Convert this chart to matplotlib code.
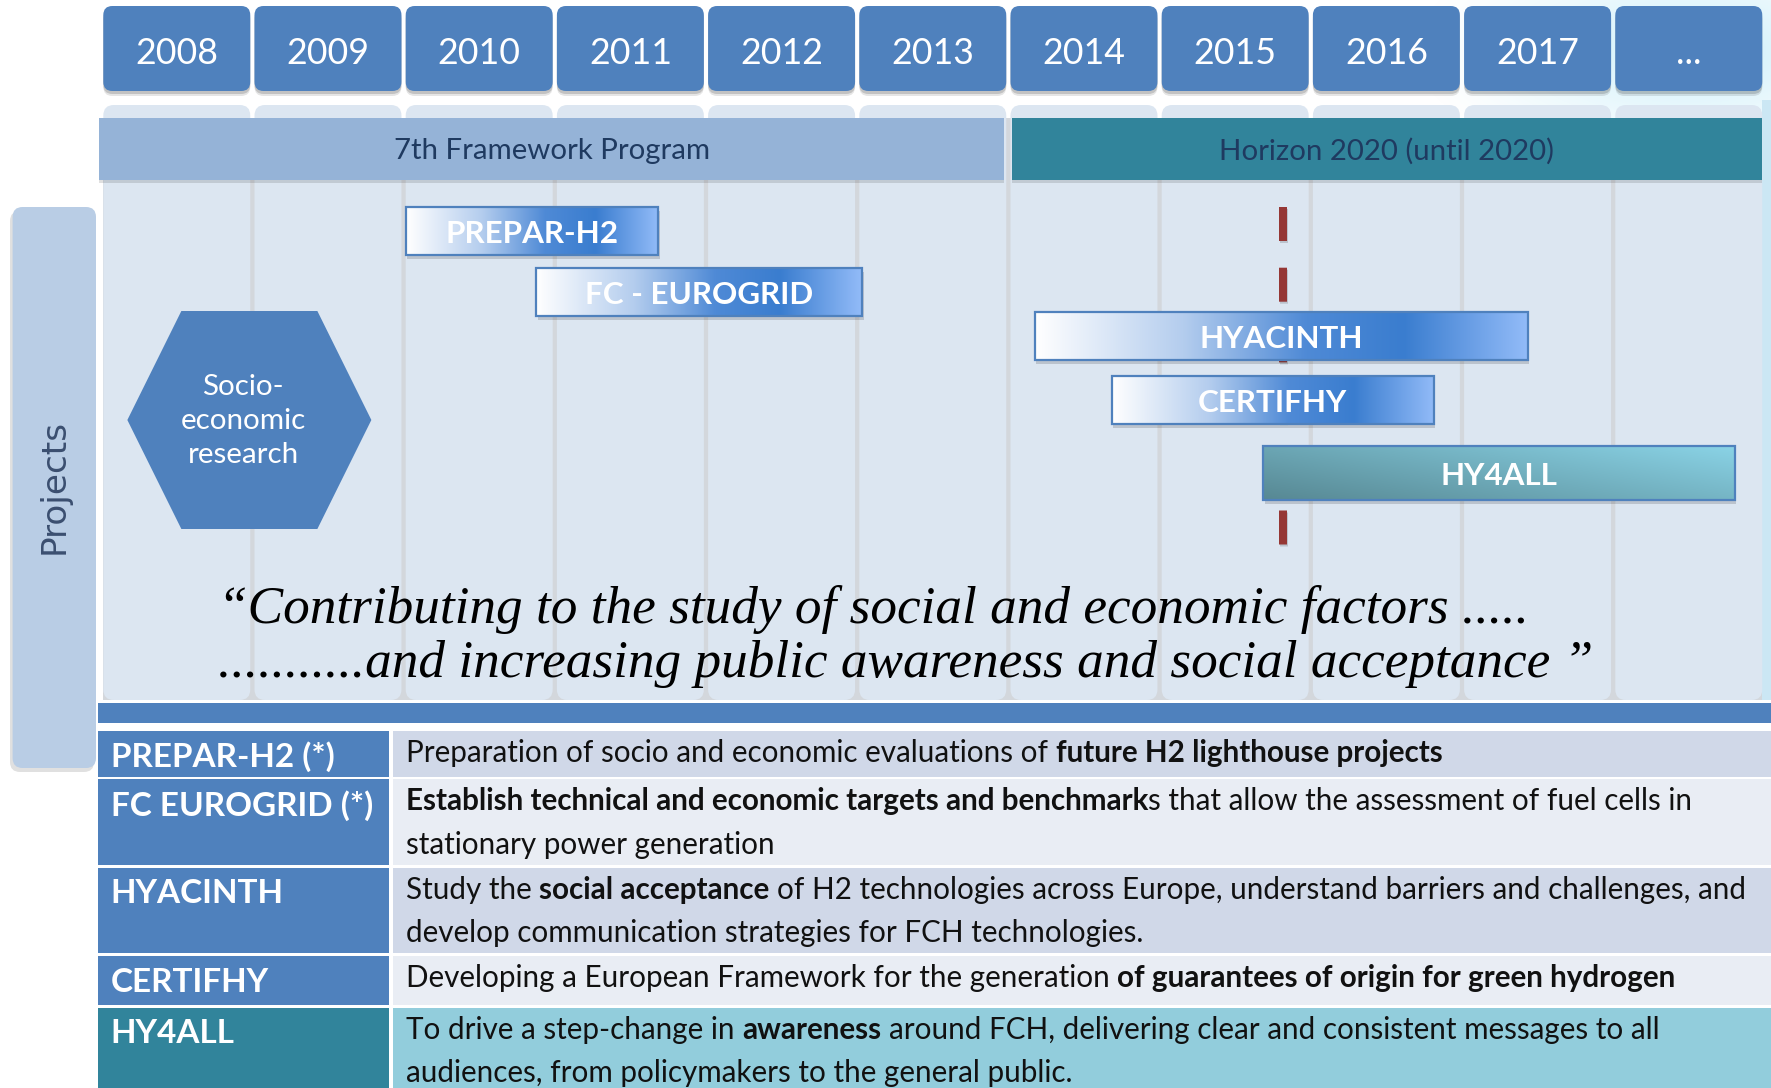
import numpy as np
import matplotlib
matplotlib.use('Agg')
import matplotlib.pyplot as plt
from matplotlib.patches import FancyBboxPatch, Rectangle, Polygon
from matplotlib.colors import LinearSegmentedColormap, to_rgb
from matplotlib.font_manager import FontProperties

# ---- data ----
years = ['2008', '2009', '2010', '2011', '2012', '2013', '2014', '2015', '2016', '2017', '...']
first_year = 2008

programs = ['7th Framework Program', 'Horizon 2020 (until 2020)']
prog_start = [2007.97, 2014.01]
prog_end = [2013.96, 2018.97]

projects = ['PREPAR-H2', 'FC - EUROGRID', 'HYACINTH', 'CERTIFHY', 'HY4ALL']
proj_start = [2010.0, 2010.865, 2014.16, 2014.67, 2015.67]
proj_end = [2011.67, 2013.02, 2017.42, 2016.80, 2018.79]
milestone = 2015.80

hex_label = ['Socio-', 'economic', 'research']
side_label = 'Projects'
quote = ['\u201cContributing to the study of social and economic factors .....',
         '...........and increasing public awareness and social acceptance \u201d']

table_names = ['PREPAR-H2 (*)', 'FC EUROGRID (*)', 'HYACINTH', 'CERTIFHY', 'HY4ALL']
# each row: list of lines, each line: list of (text, bold)
table_text = [
    [[('Preparation of socio and economic evaluations of ', False), ('future H2 lighthouse projects', True)]],
    [[('Establish technical and economic targets and benchmark', True), ('s that allow the assessment of fuel cells in', False)],
     [('stationary power generation', False)]],
    [[('Study the ', False), ('social acceptance', True), (' of H2 technologies across Europe, understand barriers and challenges, and', False)],
     [('develop communication strategies for FCH technologies.', False)]],
    [[('Developing a European Framework for the generation ', False), ('of guarantees of origin for green hydrogen', True)]],
    [[('To drive a step-change in ', False), ('awareness', True), (' around FCH, delivering clear and consistent messages to all', False)],
     [('audiences, from policymakers to the general public.', False)]],
]

# ---- layout (pixels) ----
W, H = 1771, 1088
PX0 = 103.3      # pixel of the left edge of the 2008 column
PPY = 151.2      # pixels per year
BOXW = 0.972
bar_top = [207, 268, 312, 376, 446]
bar_h = [48, 48, 48, 48, 54]
row_top = [730.7, 779.3, 867.7, 956, 1007.7]
row_bot = [776.7, 865, 953.3, 1005, 1100]

BLUE = '#4f81bd'
TEAL = '#31849b'
NAVY = '#1f3a60'
SANS = 'Lato'

fig = plt.figure(figsize=(W / 100, H / 100), dpi=100)
bg = fig.add_axes([0, 0, 1, 1], label='bg')
tl = fig.add_axes([0, 0, 1, 1], label='tl')
fg = fig.add_axes([0, 0, 1, 1], label='fg')
for a in (bg, tl, fg):
    a.axis('off')
tl.patch.set_visible(False)
fg.patch.set_visible(False)

R = fig.canvas.get_renderer()


def tw(s, fp):
    a = R.get_text_width_height_descent('|' + s + '|', fp, ismath=False)[0]
    b = R.get_text_width_height_descent('||', fp, ismath=False)[0]
    return a - b


def fp_(size, family=SANS, bold=False, style='normal'):
    return FontProperties(family=family, size=size, weight='bold' if bold else 'normal', style=style)


def fit(s, target, family=SANS, bold=False, style='normal'):
    return 20 * target / tw(s, fp_(20, family, bold, style))


# ---- background glow ----
gy, gx = np.mgrid[0:220, 1250:W]
r = np.sqrt(((gx - 1690) / 280.0) ** 2 + ((gy - 50) / 120.0) ** 2)
glow = np.zeros(gx.shape + (4,))
glow[..., :3] = to_rgb('#c9eefb')
glow[..., 3] = np.clip(1 - r, 0, 1) ** 1.2 * 0.95
bg.imshow(glow, extent=(1250, W, 220, 0), aspect='auto', interpolation='bilinear')
bg.add_patch(Rectangle((1762, 100), 9, 600, color='#cbe7f4', lw=0))
bg.set_xlim(0, W)
bg.set_ylim(H, 0)

# ---- timeline axes (x in years) ----
x_lo = first_year - PX0 / PPY
x_hi = first_year + (W - PX0) / PPY
n = len(years)

# column backgrounds
tl.add_patch(Rectangle((first_year, 118), n - (1 - BOXW), 582, color='#d3d7dc', lw=0, zorder=0))
for i in range(n):
    tl.add_patch(FancyBboxPatch((first_year + i, 105), BOXW, 595,
                                boxstyle='round,pad=0,rounding_size=0.07', mutation_aspect=PPY,
                                fc='#dce6f1', ec='none', zorder=1))

# year boxes
yfs = fit('2008', 83)
for i, lab in enumerate(years):
    for off, al in ((5, 0.10), (3, 0.15)):
        tl.add_patch(FancyBboxPatch((first_year + i, 6 + off), BOXW, 85,
                                    boxstyle='round,pad=0,rounding_size=0.06', mutation_aspect=PPY,
                                    fc='black', ec='none', alpha=al, zorder=2))
    tl.add_patch(FancyBboxPatch((first_year + i, 6), BOXW, 85,
                                boxstyle='round,pad=0,rounding_size=0.06', mutation_aspect=PPY,
                                fc=BLUE, ec='none', zorder=3))
    tl.text(first_year + i + BOXW / 2, 53, lab, color='white', fontproperties=fp_(yfs),
            ha='center', va='center', zorder=4)

# programme bands
pfs = fit(programs[0], 316)
for name, s, e, c in zip(programs, prog_start, prog_end, ['#95b3d7', TEAL]):
    tl.add_patch(Rectangle((s, 121), e - s, 62, color='black', alpha=0.12, lw=0, zorder=2))
    tl.add_patch(Rectangle((s, 118), e - s, 62, color=c, lw=0, zorder=3))
    tl.text((s + e) / 2, 151, name, color=NAVY, fontproperties=fp_(pfs), ha='center', va='center', zorder=4)

# hexagon
hc, hw, hw2 = 2008.966, 122 / PPY, 68 / PPY
tl.add_patch(Polygon([(hc - hw, 420), (hc - hw2, 311), (hc + hw2, 311), (hc + hw, 420),
                      (hc + hw2, 529), (hc - hw2, 529)], closed=True, fc=BLUE, ec='none', zorder=3))
hfs = fit('economic', 125)
for k, t in enumerate(hex_label):
    tl.text(hc - 0.04, 387 + 34 * k, t, color='white', fontproperties=fp_(hfs),
            ha='center', va='center', zorder=4)

# milestone dashed line
lw_pt = 8 * 0.72
tl.plot([milestone + 0.012, milestone + 0.012], [209, 547], color='black', alpha=0.15, lw=lw_pt,
        linestyle=(0, (34 / 8, 26.7 / 8)), dash_capstyle='butt', zorder=3)
tl.plot([milestone, milestone], [207, 545], color='#953735', lw=lw_pt,
        linestyle=(0, (34 / 8, 26.7 / 8)), dash_capstyle='butt', zorder=4)

# project bars
bar_cmap = LinearSegmentedColormap.from_list('bar', [(0, '#ffffff'), (0.3, '#b4cdee'), (0.55, '#4f8ad6'),
                                                      (0.75, '#3a7dcf'), (1.0, '#92bbf8')])
grad = np.linspace(0, 1, 256).reshape(1, -1)
xx, yy = np.meshgrid(np.linspace(0, 1, 256), np.linspace(0, 1, 64))
tt = np.clip(0.6 * xx + 0.4 * (1 - yy), 0, 1)[..., None]
teal_img = np.array(to_rgb('#578893')) * (1 - tt) + np.array(to_rgb('#8ad3e6')) * tt

bfs = fit('PREPAR-H2', 173, bold=True)
for k, (name, s, e) in enumerate(zip(projects, proj_start, proj_end)):
    y0, h = bar_top[k], bar_h[k]
    tl.add_patch(Rectangle((s + 0.01, y0 + 4), e - s, h, color='black', alpha=0.15, lw=0, zorder=5))
    if name == 'HY4ALL':
        tl.imshow(teal_img, extent=(s, e, y0 + h, y0), aspect='auto', interpolation='bilinear', zorder=6)
    else:
        tl.imshow(grad, cmap=bar_cmap, extent=(s, e, y0 + h, y0), aspect='auto',
                  interpolation='bilinear', zorder=6)
    tl.add_patch(Rectangle((s, y0), e - s, h, fill=False, ec=BLUE, lw=1.6, zorder=7))
    tl.text((s + e) / 2, y0 + h / 2 + 3, name, color='white', fontproperties=fp_(bfs, bold=True),
            ha='center', va='center', zorder=8)

tl.set_xlim(x_lo, x_hi)
tl.set_ylim(H, 0)

# ---- foreground (pixels) ----
# side tab
fg.add_patch(FancyBboxPatch((10, 211), 84, 561, boxstyle='round,pad=0,rounding_size=10',
                            fc='black', ec='none', alpha=0.12))
fg.add_patch(FancyBboxPatch((12.6, 207), 83.4, 561, boxstyle='round,pad=0,rounding_size=10',
                            fc='#b9cde5', ec='none'))
sfs = fit(side_label, 135, family='DejaVu Sans')
fg.text(54.5, 487, side_label, rotation=90, color='#3b4f70', fontproperties=fp_(sfs, family='DejaVu Sans'),
        ha='center', va='center')

# quote
qfam = 'Liberation Serif'
qfs = fit(quote[1], 1375, family=qfam, style='italic')
for k, q in enumerate(quote):
    fg.text(218, 623 + 54 * k, q, color='black', fontproperties=fp_(qfs, family=qfam, style='italic'),
            ha='left', va='baseline')

# table
fg.add_patch(Rectangle((97.6, 703), W - 97.6, 20, color=BLUE, lw=0))
lfs = fit(table_names[0], 224, bold=True)
tfs = 20 * 1036 / sum(tw(s, fp_(20, bold=b)) for s, b in table_text[0][0])
right_cols = ['#d0d8e8', '#e9edf4', '#d0d8e8', '#e9edf4', '#92cddc']
for k, name in enumerate(table_names):
    t0, t1 = row_top[k], row_bot[k]
    fg.add_patch(Rectangle((97.6, t0), 389.2 - 97.6, t1 - t0, color=TEAL if k == 4 else BLUE, lw=0))
    fg.add_patch(Rectangle((392.7, t0), W - 392.7, t1 - t0, color=right_cols[k], lw=0))
    fg.text(110.8, t0 + 26, name, color='white', fontproperties=fp_(lfs, bold=True),
            ha='left', va='center')
    for j, line in enumerate(table_text[k]):
        x = 405.9
        y = t0 + 22 + 43.5 * j
        for s, b in line:
            f = fp_(tfs, bold=b)
            lead = len(s) - len(s.lstrip())
            x += tw(s[:lead], f) if lead else 0
            body = s.lstrip()
            fg.text(x, y, body, color='#111111', fontproperties=f, ha='left', va='center')
            x += tw(body, f)

fg.set_xlim(0, W)
fg.set_ylim(H, 0)

fig.savefig('out.png', dpi=100, facecolor='white')
